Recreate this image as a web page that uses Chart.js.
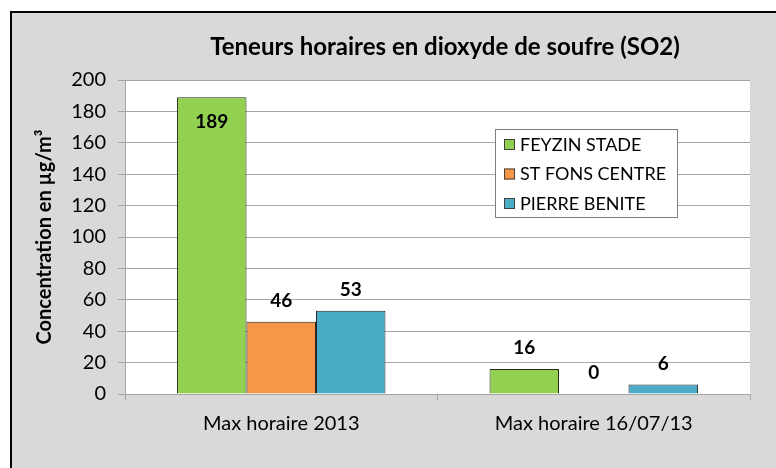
<!DOCTYPE html>
<html>
<head>
<meta charset="utf-8">
<script src="https://cdn.jsdelivr.net/npm/chart.js@4.4.1/dist/chart.umd.min.js"></script>
<style>
  html, body { margin: 0; padding: 0; background: #ffffff; width: 776px; height: 468px; overflow: hidden; }
  #frame { position: absolute; left: 10px; top: 11px; width: 764px; height: 455px;
           background: #d9d9d9; border-left: 2px solid #000; border-top: 2px solid #000; }
  #frame canvas { display: block; }
</style>
</head>
<body>
<div id="frame"><canvas id="c" width="764" height="455"></canvas></div>
<script>
const categories = ["Max horaire 2013", "Max horaire 16/07/13"];
const seriesNames = ["FEYZIN STADE", "ST FONS CENTRE", "PIERRE BENITE"];
const feyzinStade = [189, 16];
const stFonsCentre = [46, 0];
const pierreBenite = [53, 6];
const seriesColors = ["#92d050", "#f79646", "#4bacc6"];
const yTicks = [0, 20, 40, 60, 80, 100, 120, 140, 160, 180, 200];
const chartTitle = "Teneurs horaires en dioxyde de soufre (SO2)";
const yAxisTitle = "Concentration en µg/m³";

const FONT = "Lato";

const bgPlugin = {
  id: 'plotBg',
  beforeDraw(chart) {
    const { ctx, chartArea: a } = chart;
    ctx.save();
    ctx.fillStyle = '#ffffff';
    ctx.fillRect(a.left, a.top, a.right - a.left, a.bottom - a.top);
    ctx.restore();
  }
};

const labelPlugin = {
  id: 'valueLabels',
  afterDatasetsDraw(chart) {
    const { ctx } = chart;
    ctx.save();
    ctx.font = `bold 19px ${FONT}`;
    ctx.fillStyle = '#000';
    ctx.textAlign = 'center';
    ctx.textBaseline = 'middle';
    chart.data.datasets.forEach((ds, di) => {
      chart.getDatasetMeta(di).data.forEach((bar, i) => {
        const v = ds.data[i];
        const y = v > 150 ? bar.y + 25 : bar.y - 21;
        ctx.fillText(String(v), bar.x, y);
      });
    });
    ctx.restore();
  }
};

const legendPlugin = {
  id: 'boxLegend',
  afterDraw(chart) {
    const { ctx } = chart;
    const x0 = 483, y0 = 116, w = 182, h = 88;
    ctx.save();
    ctx.fillStyle = '#ffffff';
    ctx.fillRect(x0, y0, w, h);
    ctx.strokeStyle = '#7f7f7f';
    ctx.lineWidth = 1;
    ctx.strokeRect(x0 + 0.5, y0 + 0.5, w, h);
    ctx.font = `18px ${FONT}`;
    ctx.textBaseline = 'middle';
    ctx.textAlign = 'left';
    chart.data.datasets.forEach((ds, i) => {
      const cy = y0 + 15 + i * 29.5;
      ctx.fillStyle = ds.backgroundColor;
      ctx.fillRect(x0 + 9, cy - 5, 11, 11);
      ctx.strokeStyle = '#404040';
      ctx.strokeRect(x0 + 9.5, cy - 4.5, 10, 10);
      ctx.fillStyle = '#000';
      ctx.fillText(ds.label, x0 + 25, cy + 1);
    });
    ctx.restore();
  }
};

const titlePlugin = {
  id: 'mainTitle',
  afterDraw(chart) {
    const { ctx } = chart;
    ctx.save();
    ctx.font = `bold 24px ${FONT}`;
    ctx.fillStyle = '#000';
    ctx.textAlign = 'center';
    ctx.textBaseline = 'middle';
    ctx.fillText(chartTitle, 433, 34);
    ctx.restore();
  }
};

const values = [feyzinStade, stFonsCentre, pierreBenite];

new Chart(document.getElementById('c'), {
  type: 'bar',
  data: {
    labels: categories,
    datasets: seriesNames.map((name, i) => ({
      label: name,
      data: values[i],
      backgroundColor: seriesColors[i],
      borderColor: '#262626',
      borderWidth: 1,
      borderSkipped: 'bottom',
      categoryPercentage: 0.667,
      barPercentage: 1.0
    }))
  },
  options: {
    responsive: false,
    animation: false,
    layout: { padding: { top: 67, right: 26, left: 0, bottom: 0 } },
    plugins: {
      legend: { display: false },
      title: { display: false },
      tooltip: { enabled: false }
    },
    scales: {
      x: {
        grid: { display: true, drawOnChartArea: false, drawTicks: true, tickLength: 6, color: '#a6a6a6', offset: true },
        border: { display: true, color: '#a6a6a6', width: 1 },
        ticks: { color: '#000', font: { family: FONT, size: 20 }, padding: 12 },
        afterFit(scale) { scale.height = 74; }
      },
      y: {
        min: 0, max: 200,
        afterBuildTicks(scale) { scale.ticks = yTicks.map(v => ({ value: v })); },
        grid: { color: '#a6a6a6', tickLength: 7, drawTicks: true },
        border: { display: true, color: '#a6a6a6', width: 1 },
        ticks: { color: '#000', font: { family: FONT, size: 20 }, padding: 12 },
        title: { display: true, text: yAxisTitle, color: '#000', font: { family: FONT, size: 20, weight: 'bold' }, padding: { top: 21, bottom: 0 } },
        afterFit(scale) { scale.width = 113; }
      }
    }
  },
  plugins: [bgPlugin, labelPlugin, legendPlugin, titlePlugin]
});
</script>
</body>
</html>
